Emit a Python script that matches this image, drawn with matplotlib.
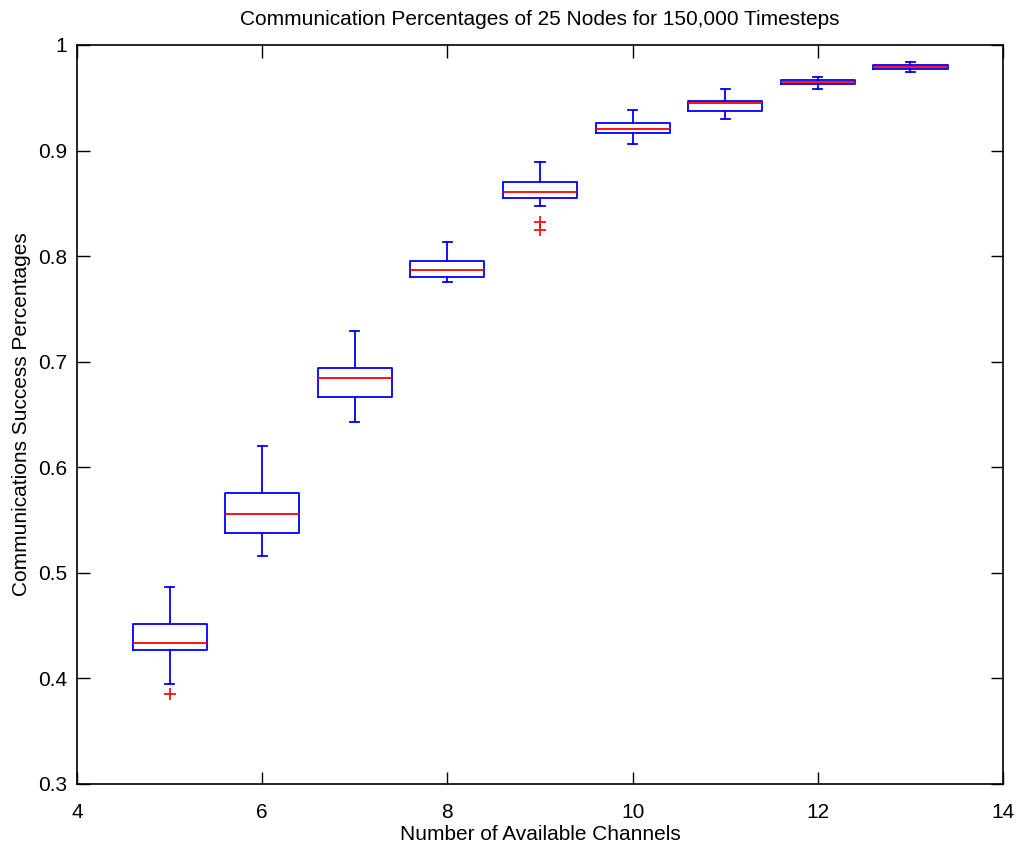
import numpy as np
import matplotlib
matplotlib.use("Agg")
import matplotlib.pyplot as plt

plt.rcParams['font.family'] = ['Liberation Sans', 'DejaVu Sans']

# box stats
channels = [5, 6, 7, 8, 9, 10, 11, 12, 13]
whislo = [0.395, 0.516, 0.643, 0.775, 0.847, 0.906, 0.930, 0.9586, 0.9745]
q1 = [0.427, 0.538, 0.667, 0.780, 0.855, 0.917, 0.9375, 0.9633, 0.977]
med = [0.434, 0.556, 0.685, 0.787, 0.861, 0.920, 0.9446, 0.965, 0.979]
q3 = [0.452, 0.5757, 0.694, 0.795, 0.870, 0.926, 0.947, 0.9669, 0.981]
whishi = [0.487, 0.620, 0.729, 0.813, 0.889, 0.938, 0.958, 0.970, 0.9836]
fliers = [[0.385], [], [], [], [0.832, 0.825], [], [], [], []]

stats = []
for i in range(len(channels)):
    stats.append(dict(whislo=whislo[i], q1=q1[i], med=med[i], q3=q3[i],
                      whishi=whishi[i], fliers=fliers[i]))

fig = plt.figure(figsize=(10.29, 8.48), dpi=100)
ax = fig.add_axes([0.0748, 0.0755, 0.9, 0.8715])

ax.bxp(stats, positions=channels, widths=0.8, showfliers=True,
       boxprops=dict(color='blue', linewidth=1.3),
       whiskerprops=dict(color='blue', linewidth=1.3, linestyle='-'),
       capprops=dict(color='blue', linewidth=1.3),
       medianprops=dict(color='red', linewidth=1.3),
       flierprops=dict(marker='+', markeredgecolor='red', markersize=9,
                       markeredgewidth=1.2, linestyle='none'),
       capwidths=0.1)

ax.set_xlim(4, 14)
ax.set_ylim(0.3, 1)
ax.set_xticks([4, 6, 8, 10, 12, 14])
ax.set_xticklabels(['4', '6', '8', '10', '12', '14'])
ax.set_yticks([0.3, 0.4, 0.5, 0.6, 0.7, 0.8, 0.9, 1.0])
ax.set_yticklabels(['0.3', '0.4', '0.5', '0.6', '0.7', '0.8', '0.9', '1'])
ax.tick_params(direction='in', top=True, right=True, labelsize=15, length=9, width=1)
ax.tick_params(axis='y', pad=7)
ax.tick_params(axis='x', pad=14)
for s in ax.spines.values():
    s.set_linewidth(1.2)

ax.set_xlabel('Number of Available Channels', fontsize=15, labelpad=2)
ax.set_ylabel('Communications Success Percentages', fontsize=15, labelpad=5)
ax.set_title('Communication Percentages of 25 Nodes for 150,000 Timesteps', fontsize=15, pad=14)

fig.savefig('out.png', dpi=100)
